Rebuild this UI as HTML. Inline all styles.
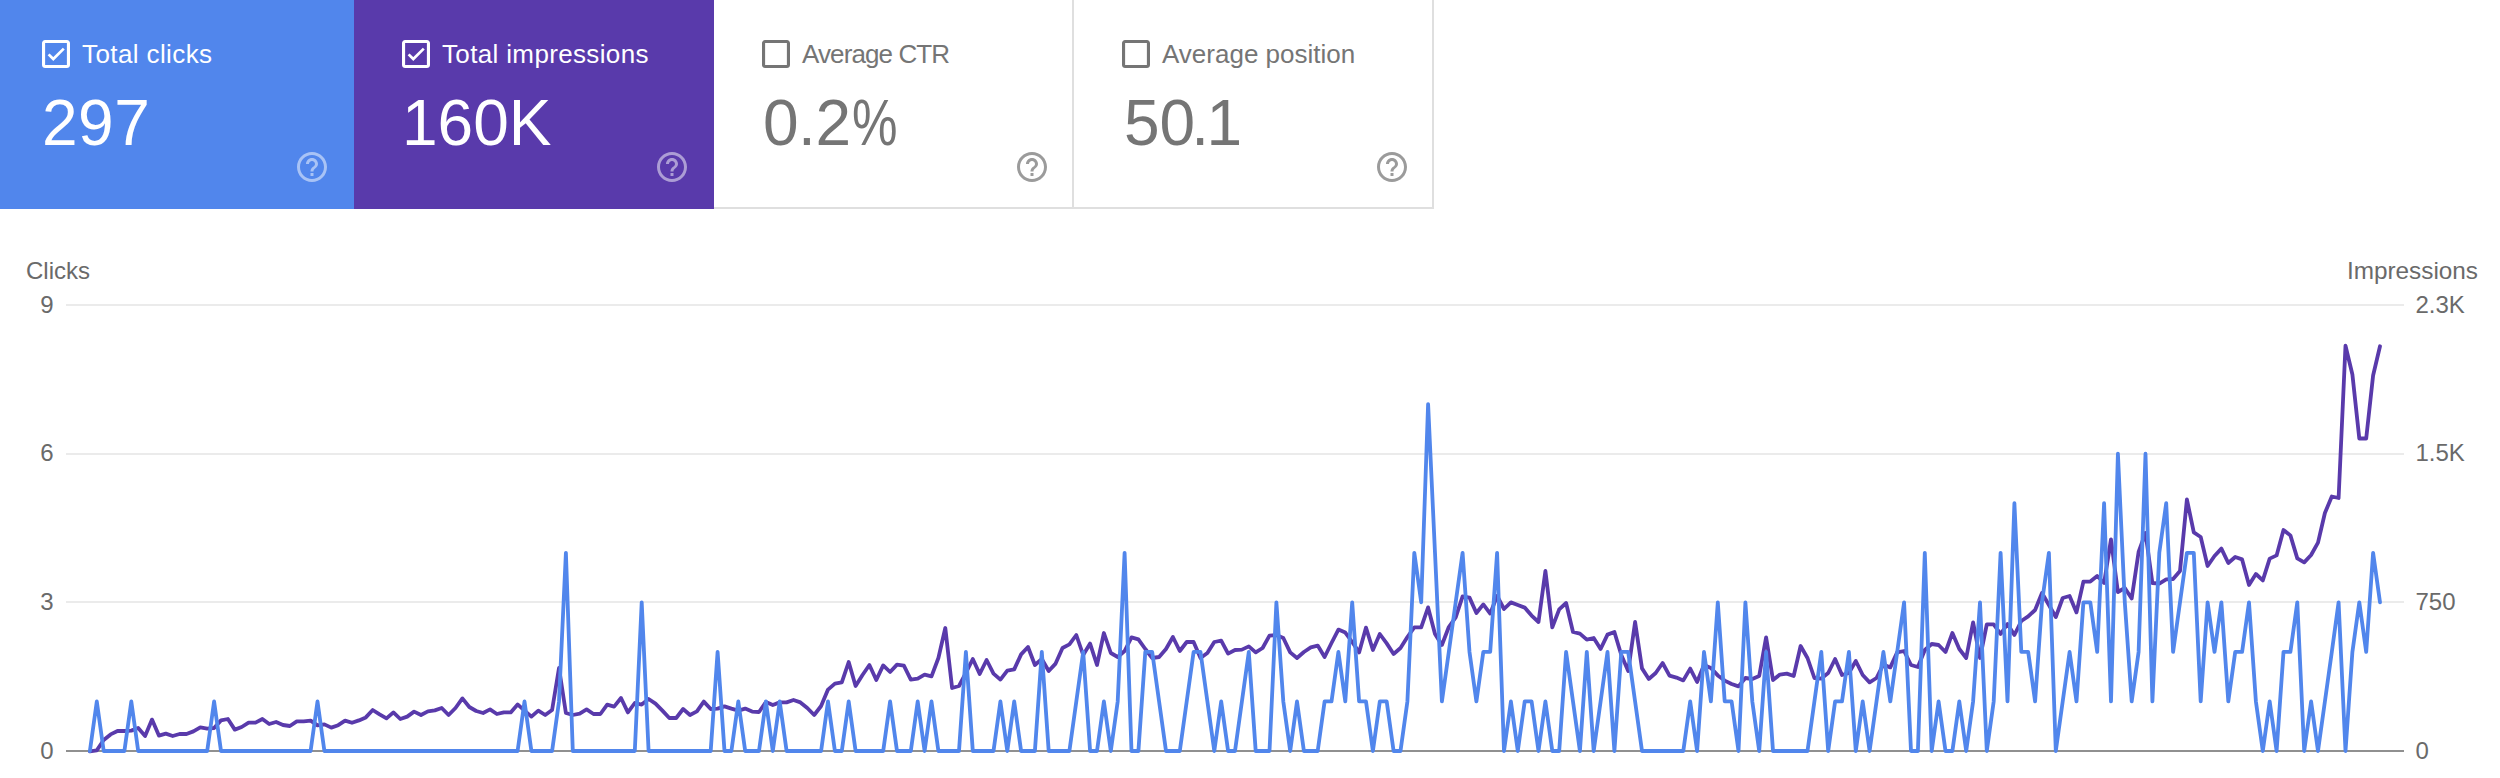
<!DOCTYPE html>
<html lang="en">
<head>
<meta charset="utf-8">
<title>Performance</title>
<style>
html,body{margin:0;padding:0;background:#fff;}
body{width:2500px;height:778px;position:relative;overflow:hidden;font-family:"Liberation Sans",Arial,sans-serif;}
.card{position:absolute;top:0;height:209px;box-sizing:border-box;}
.c1{background:#5186ec;color:#fff;}
.c2{background:#593aab;color:#fff;}
.c3,.c4{background:#fff;color:#757575;border-right:2px solid #dfdfdf;border-bottom:2px solid #dfdfdf;}
.cb{position:absolute;top:40px;}
.label{position:absolute;top:38px;font-size:26px;line-height:32px;white-space:nowrap;}
.value{position:absolute;top:86px;font-size:64px;line-height:74px;white-space:nowrap;}
.pct{display:inline-block;transform:scaleX(.8);transform-origin:0 50%;margin-left:2px;}
.help{position:absolute;top:149px;}
#chart{position:absolute;left:0;top:0;}
#chart text{font-family:"Liberation Sans",Arial,sans-serif;font-size:24px;fill:#6a6a6a;}
</style>
</head>
<body>
<div class="card c1" style="left:0px;width:354px">
<svg class="cb" style="left:42px" viewBox="3 3 18 18" width="28" height="28"><path fill="#fff" d="M19 5v14H5V5h14m0-2H5c-1.1 0-2 .9-2 2v14c0 1.1.9 2 2 2h14c1.1 0 2-.9 2-2V5c0-1.1-.9-2-2-2z"/><path fill="none" stroke="#fff" stroke-width="1.75" d="M7.25 12.25 L10.25 15.2 L17 8.55"/></svg>
<div class="label" style="left:82px;letter-spacing:0.4px">Total clicks</div>
<div class="value" style="left:42px;letter-spacing:0.5px">297</div>
<svg class="help" style="left:294px" viewBox="0 0 24 24" width="36" height="36"><path fill="rgba(255,255,255,.5)" d="M11 18h2v-2h-2v2zm1-16C6.48 2 2 6.48 2 12s4.48 10 10 10 10-4.48 10-10S17.52 2 12 2zm0 18c-4.41 0-8-3.59-8-8s3.59-8 8-8 8 3.59 8 8-3.59 8-8 8zm0-14c-2.21 0-4 1.79-4 4h2c0-1.1.9-2 2-2s2 .9 2 2c0 2-3 1.75-3 5h2c0-2.25 3-2.5 3-5 0-2.21-1.79-4-4-4z"/></svg>
</div>
<div class="card c2" style="left:354px;width:360px">
<svg class="cb" style="left:48px" viewBox="3 3 18 18" width="28" height="28"><path fill="#fff" d="M19 5v14H5V5h14m0-2H5c-1.1 0-2 .9-2 2v14c0 1.1.9 2 2 2h14c1.1 0 2-.9 2-2V5c0-1.1-.9-2-2-2z"/><path fill="none" stroke="#fff" stroke-width="1.75" d="M7.25 12.25 L10.25 15.2 L17 8.55"/></svg>
<div class="label" style="left:88px;letter-spacing:0.35px">Total impressions</div>
<div class="value" style="left:48px;letter-spacing:0px">160K</div>
<svg class="help" style="left:300px" viewBox="0 0 24 24" width="36" height="36"><path fill="rgba(255,255,255,.5)" d="M11 18h2v-2h-2v2zm1-16C6.48 2 2 6.48 2 12s4.48 10 10 10 10-4.48 10-10S17.52 2 12 2zm0 18c-4.41 0-8-3.59-8-8s3.59-8 8-8 8 3.59 8 8-3.59 8-8 8zm0-14c-2.21 0-4 1.79-4 4h2c0-1.1.9-2 2-2s2 .9 2 2c0 2-3 1.75-3 5h2c0-2.25 3-2.5 3-5 0-2.21-1.79-4-4-4z"/></svg>
</div>
<div class="card c3" style="left:714px;width:360px">
<svg class="cb" style="left:48px" viewBox="3 3 18 18" width="28" height="28"><path fill="#757575" d="M19 5v14H5V5h14m0-2H5c-1.1 0-2 .9-2 2v14c0 1.1.9 2 2 2h14c1.1 0 2-.9 2-2V5c0-1.1-.9-2-2-2z"/></svg>
<div class="label" style="left:88px;letter-spacing:-0.9px">Average CTR</div>
<div class="value" style="left:49px;letter-spacing:-0.5px">0.2<span class="pct">%</span></div>
<svg class="help" style="left:300px" viewBox="0 0 24 24" width="36" height="36"><path fill="#9b9b9b" d="M11 18h2v-2h-2v2zm1-16C6.48 2 2 6.48 2 12s4.48 10 10 10 10-4.48 10-10S17.52 2 12 2zm0 18c-4.41 0-8-3.59-8-8s3.59-8 8-8 8 3.59 8 8-3.59 8-8 8zm0-14c-2.21 0-4 1.79-4 4h2c0-1.1.9-2 2-2s2 .9 2 2c0 2-3 1.75-3 5h2c0-2.25 3-2.5 3-5 0-2.21-1.79-4-4-4z"/></svg>
</div>
<div class="card c4" style="left:1074px;width:360px">
<svg class="cb" style="left:48px" viewBox="3 3 18 18" width="28" height="28"><path fill="#757575" d="M19 5v14H5V5h14m0-2H5c-1.1 0-2 .9-2 2v14c0 1.1.9 2 2 2h14c1.1 0 2-.9 2-2V5c0-1.1-.9-2-2-2z"/></svg>
<div class="label" style="left:88px;letter-spacing:0px">Average position</div>
<div class="value" style="left:50px;letter-spacing:0px">50<span style="margin-left:-4px">.</span><span style="margin-left:-2.5px">1</span></div>
<svg class="help" style="left:300px" viewBox="0 0 24 24" width="36" height="36"><path fill="#9b9b9b" d="M11 18h2v-2h-2v2zm1-16C6.48 2 2 6.48 2 12s4.48 10 10 10 10-4.48 10-10S17.52 2 12 2zm0 18c-4.41 0-8-3.59-8-8s3.59-8 8-8 8 3.59 8 8-3.59 8-8 8zm0-14c-2.21 0-4 1.79-4 4h2c0-1.1.9-2 2-2s2 .9 2 2c0 2-3 1.75-3 5h2c0-2.25 3-2.5 3-5 0-2.21-1.79-4-4-4z"/></svg>
</div>
<svg id="chart" width="2500" height="778" viewBox="0 0 2500 778">
<g stroke="#ebebeb" stroke-width="2">
<line x1="66" x2="2404" y1="305" y2="305"/>
<line x1="66" x2="2404" y1="454" y2="454"/>
<line x1="66" x2="2404" y1="602" y2="602"/>
</g>
<line x1="66" x2="2404" y1="751" y2="751" stroke="#909090" stroke-width="2"/>
<text x="26" y="279" textLength="64" lengthAdjust="spacingAndGlyphs">Clicks</text>
<text x="2347" y="279" textLength="131" lengthAdjust="spacingAndGlyphs">Impressions</text>
<text x="53.5" y="312.6" text-anchor="end">9</text>
<text x="53.5" y="461.3" text-anchor="end">6</text>
<text x="53.5" y="609.9" text-anchor="end">3</text>
<text x="53.5" y="758.6" text-anchor="end">0</text>
<text x="2415.5" y="312.6">2.3K</text>
<text x="2415.5" y="461.3">1.5K</text>
<text x="2415.5" y="609.9">750</text>
<text x="2415.5" y="758.6">0</text>
<polyline fill="none" stroke="#593aab" stroke-width="3.8" stroke-linejoin="round" stroke-linecap="round" points="89.9,751.4 96.8,750.4 103.7,740.0 110.6,734.4 117.5,731.0 124.4,731.0 131.3,730.6 138.2,728.0 145.1,736.0 152.0,719.6 158.9,735.6 165.8,733.6 172.7,736.0 179.6,734.0 186.5,734.0 193.4,731.4 200.3,727.4 207.2,728.6 214.1,728.0 221.0,720.4 227.9,719.0 234.8,729.6 241.7,727.0 248.6,722.6 255.5,722.6 262.4,719.0 269.2,724.0 276.1,722.0 283.0,725.0 289.9,726.0 296.8,721.4 303.7,721.4 310.6,720.6 317.5,725.4 324.4,724.4 331.3,727.6 338.2,725.2 345.1,720.6 352.0,722.8 358.9,720.4 365.8,717.4 372.7,710.0 379.6,714.4 386.5,718.4 393.4,712.4 400.3,719.0 407.2,716.6 414.1,711.6 421.0,715.0 427.9,711.4 434.8,710.4 441.7,708.0 448.6,715.0 455.5,708.0 462.4,698.4 469.3,707.0 476.2,711.0 483.1,713.0 490.0,709.4 496.9,714.0 503.8,712.4 510.7,712.4 517.6,704.4 524.5,710.6 531.4,716.6 538.3,710.6 545.2,715.0 552.1,710.0 559.0,668.0 565.9,713.0 572.8,715.0 579.7,713.6 586.6,709.4 593.5,714.0 600.4,714.0 607.2,704.6 614.1,706.6 621.0,698.0 627.9,712.4 634.8,703.0 641.7,704.6 648.6,699.0 655.5,703.6 662.4,710.6 669.3,718.0 676.2,718.0 683.1,709.0 690.0,715.0 696.9,711.4 703.8,701.6 710.7,709.0 717.6,708.6 724.5,706.4 731.4,708.6 738.3,710.6 745.2,708.6 752.1,711.6 759.0,712.0 765.9,702.0 772.8,705.0 779.7,702.4 786.6,702.4 793.5,700.0 800.4,702.4 807.3,708.0 814.2,715.0 821.1,706.0 828.0,689.6 834.9,683.6 841.8,682.4 848.7,662.0 855.6,686.0 862.5,675.0 869.4,665.0 876.3,680.0 883.2,665.4 890.1,672.0 897.0,664.6 903.9,665.6 910.8,679.6 917.7,678.6 924.6,674.6 931.5,676.4 938.4,658.0 945.3,628.0 952.1,688.0 959.0,686.0 965.9,673.0 972.8,659.0 979.7,674.0 986.6,660.0 993.5,673.6 1000.4,679.6 1007.3,670.6 1014.2,669.4 1021.1,654.4 1028.0,647.0 1034.9,665.0 1041.8,659.0 1048.7,671.0 1055.6,663.6 1062.5,648.0 1069.4,644.4 1076.3,635.0 1083.2,655.0 1090.1,643.6 1097.0,665.0 1103.9,633.0 1110.8,653.0 1117.7,657.0 1124.6,651.0 1131.5,637.4 1138.4,639.4 1145.3,649.0 1152.2,658.0 1159.1,657.0 1166.0,649.0 1172.9,637.0 1179.8,651.0 1186.7,642.0 1193.6,642.0 1200.5,658.0 1207.4,653.0 1214.3,642.0 1221.2,640.6 1228.1,653.6 1235.0,650.0 1241.9,649.6 1248.8,646.4 1255.7,652.4 1262.6,648.0 1269.5,635.6 1276.4,635.0 1283.3,638.0 1290.2,652.4 1297.0,658.0 1303.9,652.0 1310.8,647.4 1317.7,645.6 1324.6,657.0 1331.5,643.0 1338.4,629.6 1345.3,632.6 1352.2,642.0 1359.1,652.4 1366.0,627.6 1372.9,650.0 1379.8,634.0 1386.7,643.4 1393.6,654.0 1400.5,648.0 1407.4,637.0 1414.3,627.4 1421.2,627.4 1428.1,607.4 1435.0,634.0 1441.9,645.0 1448.8,627.0 1455.7,617.4 1462.6,596.4 1469.5,597.6 1476.4,613.0 1483.3,604.4 1490.2,613.6 1497.1,596.0 1504.0,609.0 1510.9,602.4 1517.8,605.0 1524.7,607.6 1531.6,615.6 1538.5,622.0 1545.4,571.0 1552.3,627.4 1559.2,609.4 1566.1,603.0 1573.0,632.0 1579.9,633.6 1586.8,639.6 1593.7,638.0 1600.6,649.0 1607.5,634.6 1614.4,632.0 1621.3,655.0 1628.2,671.0 1635.1,622.0 1642.0,668.4 1648.8,679.0 1655.7,673.0 1662.6,663.0 1669.5,675.6 1676.4,677.6 1683.3,680.4 1690.2,668.6 1697.1,682.0 1704.0,665.0 1710.9,668.0 1717.8,675.4 1724.7,680.6 1731.6,684.0 1738.5,686.4 1745.4,678.0 1752.3,679.0 1759.2,676.0 1766.1,637.4 1773.0,680.0 1779.9,674.6 1786.8,673.6 1793.7,676.0 1800.6,646.0 1807.5,658.0 1814.4,678.0 1821.3,678.6 1828.2,673.0 1835.1,659.0 1842.0,675.0 1848.9,673.0 1855.8,661.0 1862.7,675.0 1869.6,682.4 1876.5,678.0 1883.4,664.4 1890.3,667.4 1897.2,652.4 1904.1,651.0 1911.0,665.0 1917.9,667.0 1924.8,650.0 1931.7,644.0 1938.6,645.0 1945.5,652.0 1952.4,633.0 1959.3,649.0 1966.2,658.0 1973.1,622.4 1980.0,658.0 1986.8,624.4 1993.7,624.4 2000.6,634.0 2007.5,624.0 2014.4,635.0 2021.3,621.0 2028.2,616.4 2035.1,610.0 2042.0,593.0 2048.9,605.0 2055.8,617.0 2062.7,598.0 2069.6,596.0 2076.5,612.4 2083.4,581.6 2090.3,581.6 2097.2,576.0 2104.1,583.0 2111.0,539.4 2117.9,592.0 2124.8,588.0 2131.7,598.5 2138.6,552.0 2145.5,533.0 2152.4,583.0 2159.3,583.6 2166.2,579.4 2173.1,579.0 2180.0,571.0 2186.9,499.4 2193.8,532.4 2200.7,537.0 2207.6,566.0 2214.5,556.0 2221.4,548.6 2228.3,563.0 2235.2,557.0 2242.1,559.4 2249.0,585.0 2255.9,574.0 2262.8,580.4 2269.7,558.6 2276.6,555.4 2283.5,530.0 2290.4,535.4 2297.3,558.4 2304.2,562.4 2311.1,555.0 2318.0,542.6 2324.9,513.0 2331.8,496.5 2338.6,498.0 2345.5,345.7 2352.4,374.5 2359.3,438.5 2366.2,438.5 2373.1,375.5 2380.0,346.3"/>
<polyline fill="none" stroke="#5186ec" stroke-width="3.8" stroke-linejoin="round" stroke-linecap="round" points="89.9,751.0 96.8,701.4 103.7,751.0 110.6,751.0 117.5,751.0 124.4,751.0 131.3,701.4 138.2,751.0 145.1,751.0 152.0,751.0 158.9,751.0 165.8,751.0 172.7,751.0 179.6,751.0 186.5,751.0 193.4,751.0 200.3,751.0 207.2,751.0 214.1,701.4 221.0,751.0 227.9,751.0 234.8,751.0 241.7,751.0 248.6,751.0 255.5,751.0 262.4,751.0 269.2,751.0 276.1,751.0 283.0,751.0 289.9,751.0 296.8,751.0 303.7,751.0 310.6,751.0 317.5,701.4 324.4,751.0 331.3,751.0 338.2,751.0 345.1,751.0 352.0,751.0 358.9,751.0 365.8,751.0 372.7,751.0 379.6,751.0 386.5,751.0 393.4,751.0 400.3,751.0 407.2,751.0 414.1,751.0 421.0,751.0 427.9,751.0 434.8,751.0 441.7,751.0 448.6,751.0 455.5,751.0 462.4,751.0 469.3,751.0 476.2,751.0 483.1,751.0 490.0,751.0 496.9,751.0 503.8,751.0 510.7,751.0 517.6,751.0 524.5,701.4 531.4,751.0 538.3,751.0 545.2,751.0 552.1,751.0 559.0,701.4 565.9,552.8 572.8,751.0 579.7,751.0 586.6,751.0 593.5,751.0 600.4,751.0 607.2,751.0 614.1,751.0 621.0,751.0 627.9,751.0 634.8,751.0 641.7,602.3 648.6,751.0 655.5,751.0 662.4,751.0 669.3,751.0 676.2,751.0 683.1,751.0 690.0,751.0 696.9,751.0 703.8,751.0 710.7,751.0 717.6,651.9 724.5,751.0 731.4,751.0 738.3,701.4 745.2,751.0 752.1,751.0 759.0,751.0 765.9,701.4 772.8,751.0 779.7,701.4 786.6,751.0 793.5,751.0 800.4,751.0 807.3,751.0 814.2,751.0 821.1,751.0 828.0,701.4 834.9,751.0 841.8,751.0 848.7,701.4 855.6,751.0 862.5,751.0 869.4,751.0 876.3,751.0 883.2,751.0 890.1,701.4 897.0,751.0 903.9,751.0 910.8,751.0 917.7,701.4 924.6,751.0 931.5,701.4 938.4,751.0 945.3,751.0 952.1,751.0 959.0,751.0 965.9,651.9 972.8,751.0 979.7,751.0 986.6,751.0 993.5,751.0 1000.4,701.4 1007.3,751.0 1014.2,701.4 1021.1,751.0 1028.0,751.0 1034.9,751.0 1041.8,651.9 1048.7,751.0 1055.6,751.0 1062.5,751.0 1069.4,751.0 1076.3,701.4 1083.2,651.9 1090.1,751.0 1097.0,751.0 1103.9,701.4 1110.8,751.0 1117.7,701.4 1124.6,552.8 1131.5,751.0 1138.4,751.0 1145.3,651.9 1152.2,651.9 1159.1,701.4 1166.0,751.0 1172.9,751.0 1179.8,751.0 1186.7,701.4 1193.6,651.9 1200.5,651.9 1207.4,701.4 1214.3,751.0 1221.2,701.4 1228.1,751.0 1235.0,751.0 1241.9,701.4 1248.8,651.9 1255.7,751.0 1262.6,751.0 1269.5,751.0 1276.4,602.3 1283.3,701.4 1290.2,751.0 1297.0,701.4 1303.9,751.0 1310.8,751.0 1317.7,751.0 1324.6,701.4 1331.5,701.4 1338.4,651.9 1345.3,701.4 1352.2,602.3 1359.1,701.4 1366.0,701.4 1372.9,751.0 1379.8,701.4 1386.7,701.4 1393.6,751.0 1400.5,751.0 1407.4,701.4 1414.3,552.8 1421.2,602.3 1428.1,404.1 1435.0,552.8 1441.9,701.4 1448.8,651.9 1455.7,602.3 1462.6,552.8 1469.5,651.9 1476.4,701.4 1483.3,651.9 1490.2,651.9 1497.1,552.8 1504.0,751.0 1510.9,701.4 1517.8,751.0 1524.7,701.4 1531.6,701.4 1538.5,751.0 1545.4,701.4 1552.3,751.0 1559.2,751.0 1566.1,651.9 1573.0,701.4 1579.9,751.0 1586.8,651.9 1593.7,751.0 1600.6,701.4 1607.5,651.9 1614.4,751.0 1621.3,651.9 1628.2,651.9 1635.1,701.4 1642.0,751.0 1648.8,751.0 1655.7,751.0 1662.6,751.0 1669.5,751.0 1676.4,751.0 1683.3,751.0 1690.2,701.4 1697.1,751.0 1704.0,651.9 1710.9,701.4 1717.8,602.3 1724.7,701.4 1731.6,701.4 1738.5,751.0 1745.4,602.3 1752.3,701.4 1759.2,751.0 1766.1,651.9 1773.0,751.0 1779.9,751.0 1786.8,751.0 1793.7,751.0 1800.6,751.0 1807.5,751.0 1814.4,701.4 1821.3,651.9 1828.2,751.0 1835.1,701.4 1842.0,701.4 1848.9,651.9 1855.8,751.0 1862.7,701.4 1869.6,751.0 1876.5,701.4 1883.4,651.9 1890.3,701.4 1897.2,651.9 1904.1,602.3 1911.0,751.0 1917.9,751.0 1924.8,552.8 1931.7,751.0 1938.6,701.4 1945.5,751.0 1952.4,751.0 1959.3,701.4 1966.2,751.0 1973.1,701.4 1980.0,602.3 1986.8,751.0 1993.7,701.4 2000.6,552.8 2007.5,701.4 2014.4,503.2 2021.3,651.9 2028.2,651.9 2035.1,701.4 2042.0,602.3 2048.9,552.8 2055.8,751.0 2062.7,701.4 2069.6,651.9 2076.5,701.4 2083.4,602.3 2090.3,602.3 2097.2,651.9 2104.1,503.2 2111.0,701.4 2117.9,453.7 2124.8,602.3 2131.7,701.4 2138.6,651.9 2145.5,453.7 2152.4,701.4 2159.3,552.8 2166.2,503.2 2173.1,651.9 2180.0,602.3 2186.9,552.8 2193.8,552.8 2200.7,701.4 2207.6,602.3 2214.5,651.9 2221.4,602.3 2228.3,701.4 2235.2,651.9 2242.1,651.9 2249.0,602.3 2255.9,701.4 2262.8,751.0 2269.7,701.4 2276.6,751.0 2283.5,651.9 2290.4,651.9 2297.3,602.3 2304.2,751.0 2311.1,701.4 2318.0,751.0 2324.9,701.4 2331.8,651.9 2338.6,602.3 2345.5,751.0 2352.4,651.9 2359.3,602.3 2366.2,651.9 2373.1,552.8 2380.0,602.3"/>
</svg>
</body>
</html>
